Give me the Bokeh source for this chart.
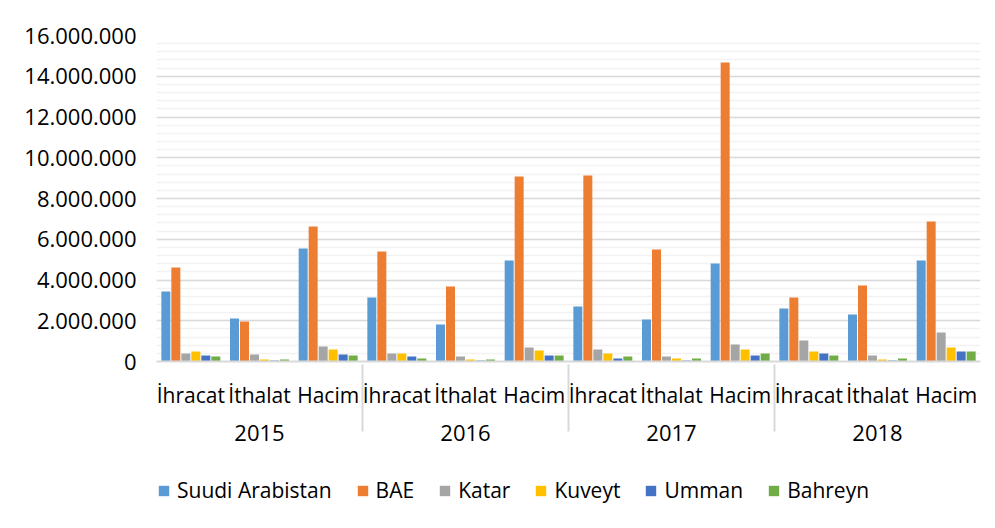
from bokeh.plotting import figure
from bokeh.layouts import column
from bokeh.models import (ColumnDataSource, FactorRange, FixedTicker, Legend,
                          LegendItem, Range1d)
from bokeh.transform import dodge
from bokeh.embed import file_html
from bokeh.resources import INLINE

years = ["2015", "2016", "2017", "2018"]
types = ["İhracat", "İthalat", "Hacim"]

suudi = [3440000, 2110000, 5550000, 3140000, 1820000, 4960000,
         2700000, 2060000, 4810000, 2600000, 2310000, 4960000]
bae = [4610000, 1960000, 6630000, 5400000, 3680000, 9080000,
       9130000, 5500000, 14680000, 3140000, 3730000, 6870000]
katar = [390000, 340000, 740000, 390000, 250000, 690000,
         590000, 250000, 830000, 1030000, 290000, 1420000]
kuveyt = [490000, 100000, 590000, 390000, 100000, 540000,
          390000, 150000, 590000, 490000, 100000, 690000]
umman = [290000, 50000, 340000, 250000, 50000, 290000,
         150000, 50000, 290000, 390000, 50000, 490000]
bahreyn = [250000, 100000, 290000, 150000, 100000, 290000,
           250000, 150000, 390000, 290000, 150000, 490000]

series_names = ["Suudi Arabistan", "BAE", "Katar", "Kuveyt", "Umman", "Bahreyn"]
series_keys = ["suudi", "bae", "katar", "kuveyt", "umman", "bahreyn"]
colors = ["#5B9BD5", "#ED7D31", "#A5A5A5", "#FFC000", "#4472C4", "#70AD47"]

y_ticks = [0, 2000000, 4000000, 6000000, 8000000, 10000000, 12000000, 14000000, 16000000]
y_minor = [i * 400000 for i in range(41)]

x = [(yr, t) for yr in years for t in types]
source = ColumnDataSource(data=dict(x=x, suudi=suudi, bae=bae, katar=katar,
                                    kuveyt=kuveyt, umman=umman, bahreyn=bahreyn))

FONT = "Open Sans"
TXT = "#000000"
W = 987

p = figure(x_range=FactorRange(*x, factor_padding=0, group_padding=0, range_padding=0),
           y_range=(0, 16000000), width=W, height=470,
           output_backend="svg", toolbar_location=None,
           min_border_left=156, min_border_right=7, min_border_top=35, min_border_bottom=109)

slot = 0.1456
for i, (k, c) in enumerate(zip(series_keys, colors)):
    off = (i - 2.5) * slot
    p.vbar(x=dodge("x", off, range=p.x_range), top=k, width=0.131, source=source,
           fill_color=c, line_color=None)

p.outline_line_color = None
p.background_fill_color = "white"
p.border_fill_color = "white"

# y axis
p.yaxis.ticker = FixedTicker(ticks=y_ticks, minor_ticks=y_minor)
p.yaxis.major_label_overrides = {v: f"{v:,}".replace(",", ".") for v in y_ticks}
p.yaxis.axis_line_color = None
p.yaxis.major_tick_line_color = None
p.yaxis.minor_tick_line_color = None
p.yaxis.major_label_standoff = 14
p.yaxis.major_label_text_font = FONT
p.yaxis.major_label_text_font_size = "22px"
p.yaxis.major_label_text_color = TXT

p.ygrid.grid_line_color = "#d9d9d9"
p.ygrid.grid_line_width = 1.5
p.ygrid.minor_grid_line_color = "#f2f2f2"
p.ygrid.minor_grid_line_width = 1.5
p.xgrid.grid_line_color = None

# x axis
xa = p.xaxis[0]
xa.axis_line_color = "#d9d9d9"
xa.axis_line_width = 2
xa.major_tick_line_color = None
xa.minor_tick_line_color = None
xa.major_label_text_font = FONT
xa.major_label_text_font_size = "21px"
xa.major_label_text_color = TXT
xa.group_text_font = FONT
xa.group_text_font_size = "22px"
xa.group_text_font_style = "normal"
xa.group_text_color = TXT
xa.major_label_standoff = 13
xa.separator_line_color = "#d9d9d9"
xa.separator_line_width = 2

# legend strip below the chart
lp = figure(width=W, height=50, x_range=Range1d(0, 1), y_range=Range1d(0, 1),
            output_backend="svg", toolbar_location=None,
            x_axis_type=None, y_axis_type=None,
            min_border_left=0, min_border_right=0, min_border_top=0, min_border_bottom=0)
lp.outline_line_color = None
lp.grid.visible = False
lp.border_fill_color = "white"
lp.background_fill_color = "white"

items = []
for k, name, c in zip(series_keys, series_names, colors):
    r = lp.vbar(x=[0], top=[0], width=0, fill_color=c, line_color=None)
    items.append(LegendItem(label=name, renderers=[r]))

legend = Legend(items=items, orientation="horizontal", location=(1, 16),
                glyph_width=13, glyph_height=13, label_text_font=FONT,
                label_text_font_size="21px", label_text_color=TXT,
                spacing=24, label_standoff=7, padding=0, margin=0,
                border_line_color=None, background_fill_alpha=0)
lp.add_layout(legend, "center")

layout = column(p, lp, spacing=0)
open("out.html", "w").write(file_html(layout, INLINE))
